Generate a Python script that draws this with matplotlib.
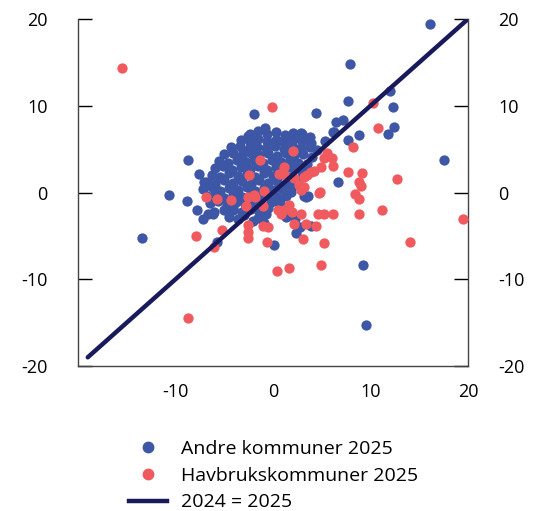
import numpy as np
import matplotlib.pyplot as plt
from matplotlib.lines import Line2D

plt.rcParams['font.family'] = ['Open Sans', 'DejaVu Sans']
plt.rcParams['axes.unicode_minus'] = False

# Andre kommuner 2025 (x = 2024, y = 2025): spread-out points
andre_x = [16.1, 7.9, 7.7, 12.0, 12.3, 4.4, -1.9, 17.5, 12.4, 11.8, 8.8, 6.5, 7.2, 6.3, 7.7,
           -8.7, -10.7, -13.4, 9.2, 9.5, 0.1, 6.7, 3.6, 3.9, 2.4, -5.7, -8.8, -7.8, -7.2, -6.2,
           -3.6, -2.1, -0.9, -0.7, -4.1, -6.7, -6.1, 1.3, 0.6, -0.8, -2.6, -3.1, -7.6, -7.1,
           5.3, 2.9, 2.4, 0.5, 6.2, 3.2, 3.4, 2.3, 2.8]
andre_y = [19.4, 14.8, 10.5, 11.7, 9.9, 9.2, 9.1, 3.7, 7.5, 6.8, 6.6, 8.1, 8.4, 7.0, 6.1,
           3.8, -0.3, -5.2, -8.3, -15.3, -6.1, 1.2, -0.4, -3.9, -4.7, -5.7, -1.0, -2.0, -3.1, -2.5,
           -3.1, -3.3, -3.5, -2.5, -2.0, -2.5, -2.3, -2.8, -1.2, 7.4, 6.5, 4.7, 2.1, 1.2,
           5.9, 6.9, 6.3, 5.9, 7.0, -0.4, -0.5, -3.1, -4.0]

# Andre kommuner 2025: the dense core around (0, 2)
kjerne_x = [-2.4, -1.5, -0.6, 0.3, 1.2, 2.1, 3.0, 3.8,
            -3.3, -2.4, -1.5, -0.6, 0.3, 1.2, 2.1, 3.0, 3.9,
            -4.3, -3.4, -2.5, -1.6, -0.7, 0.2, 1.1, 2.0, 2.9, 3.8, 4.5,
            -5.0, -4.1, -3.2, -2.3, -1.4, -0.5, 0.4, 1.3, 2.2, 3.1, 4.0,
            -5.5, -4.6, -3.7, -2.8, -1.9, -1.0, -0.1, 0.8, 1.7, 2.6, 3.5,
            -6.0, -5.1, -4.2, -3.3, -2.4, -1.5, -0.6, 0.3, 1.2, 2.1, 3.0,
            -6.3, -5.4, -4.5, -3.6, -2.7, -1.8, -0.9, 0.0, 0.9, 1.8, 2.7,
            -6.8, -5.9, -5.0, -4.1, -3.2, -2.3, -1.4, -0.5, 0.4, 1.3, 2.2,
            -7.2, -6.3, -5.4, -4.5, -3.6, -2.7, -1.8, -0.9, 0.0, 0.9, 1.8,
            -6.8, -5.9, -5.0, -4.1, -3.2, -2.3, -1.4, -0.5, 0.4, 1.3,
            -6.5, -5.6, -4.7, -3.8, -2.9, -2.0, -1.1, -0.2, 0.7,
            -5.0, -4.1, -3.2, -2.3, -1.4, -0.5,
            -4.5, -3.0, -1.5]
kjerne_y = [6.8, 7.1, 6.7, 7.0, 6.6, 6.9, 6.7, 6.4,
            6.0, 5.8, 6.2, 5.9, 6.1, 5.8, 6.2, 5.9, 5.7,
            5.2, 5.4, 5.0, 5.3, 5.1, 5.4, 5.0, 5.3, 5.1, 5.2, 4.9,
            4.4, 4.6, 4.2, 4.5, 4.3, 4.6, 4.2, 4.5, 4.3, 4.4, 4.1,
            3.6, 3.4, 3.8, 3.5, 3.7, 3.4, 3.8, 3.5, 3.7, 3.4, 3.3,
            2.8, 3.0, 2.6, 2.9, 2.7, 3.0, 2.6, 2.9, 2.7, 2.8, 2.5,
            2.0, 1.8, 2.2, 1.9, 2.1, 1.8, 2.2, 1.9, 2.1, 1.8, 1.6,
            1.2, 1.0, 1.4, 1.1, 1.3, 1.0, 1.4, 1.1, 1.3, 1.0, 0.9,
            0.4, 0.6, 0.2, 0.5, 0.3, 0.6, 0.2, 0.5, 0.3, 0.4, 0.1,
            -0.4, -0.2, -0.6, -0.3, -0.5, -0.2, -0.6, -0.3, -0.5, -0.4,
            -1.2, -1.0, -1.4, -1.1, -1.3, -1.0, -1.4, -1.1, -1.2,
            -2.0, -1.8, -2.2, -1.9, -2.1, -1.8,
            -2.8, -2.6, -2.9]

# Havbrukskommuner 2025
havbruk_x = [-15.5, -0.1, 10.3, 10.8, 8.2, 12.7, 19.5, 14.0, 11.2, 8.8, 4.6, 5.2, 6.2, 2.9,
             1.6, 0.4, 4.9, -8.7, -7.9, -6.1, 5.2, 3.1, -0.6, 2.2, 3.4, 4.4, 7.7, 9.1, 8.8,
             9.0, 8.4, 8.8, 6.2, 5.2, 6.0, 5.5, 4.2, 3.5, 4.8, 2.0, 1.1, 1.1, 3.2, 3.2, 4.7,
             1.1, 1.6, 0.8, 0.5, -6.9, -5.7, -4.3, -2.6, -1.8, -2.8, -5.2, -2.6, -2.6, -2.6,
             -0.5, -1.3, -2.5, 0.6, -0.9, -1.9, -1.0, 1.9, 2.9, 2.7, 2.2, 3.9, 4.9, -1.0]
havbruk_y = [14.3, 9.9, 10.3, 7.4, 5.2, 1.6, -3.0, -5.7, -2.0, -2.5, -2.5, -2.5, -2.5, -2.5,
             -8.7, -9.0, -8.3, -14.5, -5.0, -6.3, -5.8, -5.4, -5.7, -3.6, -3.6, -3.9, 2.4, 2.3, 1.2,
             0.7, -0.2, -0.7, 3.0, 4.0, 4.0, 4.6, 2.5, 2.0, 0.1, 4.8, 2.9, 2.1, 1.8, 0.6, 0.0,
             -2.0, -1.4, -2.5, -2.0, -0.5, -0.8, -0.9, -0.5, -0.5, -1.6, -4.3, -3.7, -4.6, -5.2,
             -4.0, 3.7, 2.0, 2.1, 0.2, -0.3, -1.6, -2.3, 0.3, 0.9, 1.7, 2.4, 2.9, -3.9]

line_vals = [-19, 20]
ticks = [-20, -10, 0, 10, 20]

blue = '#3d56a6'
red = '#f05a5f'
navy = '#191a5c'

fig = plt.figure(figsize=(5.36, 5.11), dpi=100)
ax = fig.add_axes([78/536, 1-366/511, 390/536, 347/511])

ax.scatter(andre_x + kjerne_x, andre_y + kjerne_y, s=55, color=blue, linewidths=0, zorder=2)
ax.scatter(havbruk_x, havbruk_y, s=55, color=red, linewidths=0, zorder=3)
ax.plot(line_vals, line_vals, color=navy, lw=3.2, solid_capstyle='round', zorder=4)

ax.set_xlim(-20, 20)
ax.set_ylim(-20, 20)
ax.set_xticks(ticks)
ax.set_yticks(ticks)
ax.set_xticklabels(['', '-10', '0', '10', '20'])
ax.tick_params(axis='y', direction='in', length=10, width=1, colors='black',
               left=True, right=True, labelleft=True, labelright=True, labelsize=13, pad=22)
ax.tick_params(axis='x', length=0, labelsize=13, pad=12)
ax.spines['top'].set_visible(False)
for s in ['left', 'right', 'bottom']:
    ax.spines[s].set_color('#444444')
    ax.spines[s].set_linewidth(1)

handles = [Line2D([], [], marker='o', ls='', color=blue, markersize=7.5),
           Line2D([], [], marker='o', ls='', color=red, markersize=7.5),
           Line2D([], [], color=navy, lw=3.2)]
labels = ['Andre kommuner 2025', 'Havbrukskommuner 2025', '2024 = 2025']
fig.legend(handles, labels, loc='lower center', bbox_to_anchor=(0.51, -0.035), frameon=False,
           fontsize=14, handlelength=2.0, labelspacing=0.45, handletextpad=0.7)

fig.savefig('out.png', dpi=100)
